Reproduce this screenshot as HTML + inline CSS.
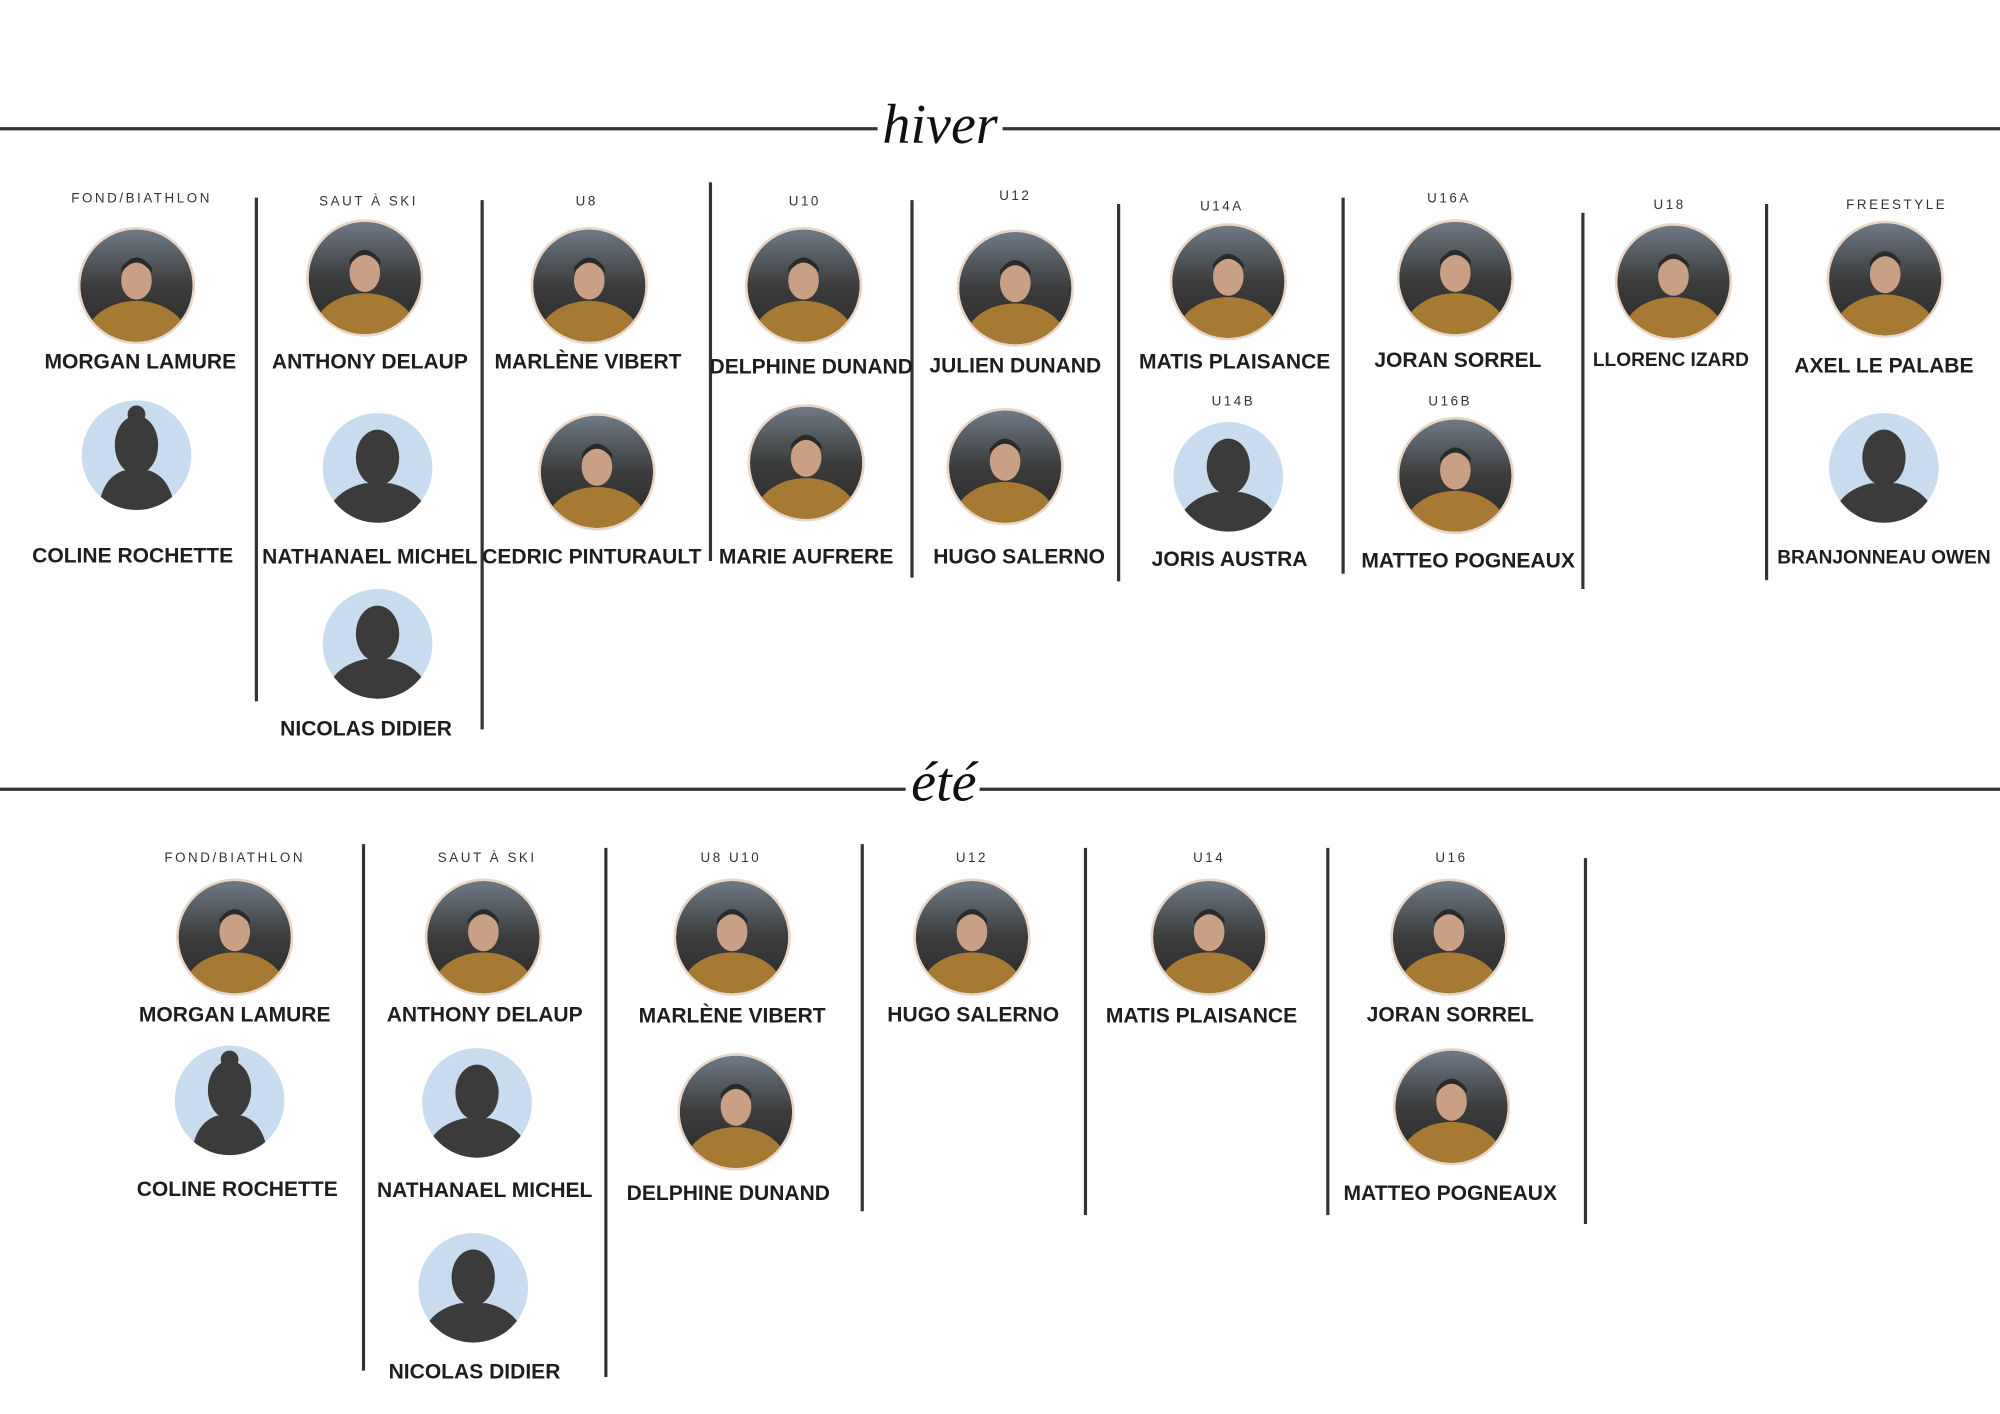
<!DOCTYPE html>
<html><head><meta charset="utf-8"><style>
html,body{margin:0;padding:0;background:#fff;}
svg{display:block;}
.n{font-family:"Liberation Sans",sans-serif;font-weight:bold;font-size:16.5px;fill:#1e1e1e;text-anchor:middle;}
.l{font-family:"Liberation Sans",sans-serif;font-size:10.5px;letter-spacing:2px;fill:#333;text-anchor:middle;}
.s{font-family:"Liberation Serif",serif;font-style:italic;font-size:44px;fill:#111;text-anchor:middle;}
</style></head><body>
<svg width="2000" height="1414" viewBox="0 0 1568 1109" preserveAspectRatio="none" xmlns="http://www.w3.org/2000/svg">
<defs>
<linearGradient id="bg" x1="0" y1="0" x2="0" y2="1"><stop offset="0" stop-color="#6f7a86"/><stop offset="0.5" stop-color="#3c3c3c"/><stop offset="1" stop-color="#2a2a2a"/></linearGradient>
<clipPath id="cp"><circle cx="0" cy="0" r="44"/></clipPath>
<clipPath id="cs"><circle cx="0" cy="0" r="43"/></clipPath>
<g id="ph">
<circle r="46" fill="#e8d6c8"/>
<g clip-path="url(#cp)">
<circle r="44" fill="url(#bg)"/>
<ellipse cx="0" cy="42" rx="40" ry="30" fill="#a77a34"/>
<ellipse cx="0" cy="-4" rx="12" ry="15" fill="#c9a084"/>
<path d="M-12,-10 Q0,-26 12,-10 L12,-14 Q0,-30 -12,-14Z" fill="#2a2a2a"/>
</g>
</g>
<g id="si">
<circle r="43" fill="#c9dcef"/>
<g clip-path="url(#cs)">
<ellipse cx="0" cy="-8" rx="17" ry="22" fill="#3b3b3b"/>
<path d="M-42,45 Q-38,18 -10,12 L10,12 Q38,18 42,45Z" fill="#3b3b3b"/>
</g>
</g>
<g id="sf">
<circle r="43" fill="#c9dcef"/>
<g clip-path="url(#cs)">
<circle cx="0" cy="-32" r="7" fill="#3b3b3b"/>
<ellipse cx="0" cy="-8" rx="17" ry="23" fill="#3b3b3b"/>
<path d="M-30,45 Q-28,18 -10,12 L10,12 Q28,18 30,45Z" fill="#3b3b3b"/>
</g>
</g>
</defs>
<g stroke="#333" stroke-width="2.5">
<line x1="0" y1="101" x2="688" y2="101"/><line x1="786" y1="101" x2="1568" y2="101"/>
<line x1="0" y1="619" x2="710" y2="619"/><line x1="768" y1="619" x2="1568" y2="619"/>
<line x1="201" y1="155" x2="201" y2="550"/><line x1="378" y1="157" x2="378" y2="572"/>
<line x1="557" y1="143" x2="557" y2="440"/><line x1="715" y1="157" x2="715" y2="453"/>
<line x1="877" y1="160" x2="877" y2="456"/><line x1="1053" y1="155" x2="1053" y2="450"/>
<line x1="1241" y1="167" x2="1241" y2="462"/><line x1="1385" y1="160" x2="1385" y2="455"/>
<line x1="285" y1="662" x2="285" y2="1075"/><line x1="475" y1="665" x2="475" y2="1080"/>
<line x1="676" y1="662" x2="676" y2="950"/><line x1="851" y1="665" x2="851" y2="953"/>
<line x1="1041" y1="665" x2="1041" y2="953"/><line x1="1243" y1="673" x2="1243" y2="960"/>
</g>
<text class="s" x="737" y="112">hiver</text>
<text class="s" x="740" y="628">été</text>
<!-- winter -->
<text class="l" x="111" y="159">FOND/BIATHLON</text>
<use href="#ph" x="107" y="224"/><text class="n" x="110" y="289">MORGAN LAMURE</text>
<use href="#sf" x="107" y="357"/><text class="n" x="104" y="441">COLINE ROCHETTE</text>
<text class="l" x="289" y="161">SAUT À SKI</text>
<use href="#ph" x="286" y="218"/><text class="n" x="290" y="289">ANTHONY DELAUP</text>
<use href="#si" x="296" y="367"/><text class="n" x="290" y="442">NATHANAEL MICHEL</text>
<use href="#si" x="296" y="505"/><text class="n" x="287" y="577">NICOLAS DIDIER</text>
<text class="l" x="460" y="161">U8</text>
<use href="#ph" x="462" y="224"/><text class="n" x="461" y="289">MARLÈNE VIBERT</text>
<use href="#ph" x="468" y="370"/><text class="n" x="464" y="442">CEDRIC PINTURAULT</text>
<text class="l" x="631" y="161">U10</text>
<use href="#ph" x="630" y="224"/><text class="n" x="636" y="293">DELPHINE DUNAND</text>
<use href="#ph" x="632" y="363"/><text class="n" x="632" y="442">MARIE AUFRERE</text>
<text class="l" x="796" y="157">U12</text>
<use href="#ph" x="796" y="226"/><text class="n" x="796" y="292">JULIEN DUNAND</text>
<use href="#ph" x="788" y="366"/><text class="n" x="799" y="442">HUGO SALERNO</text>
<text class="l" x="958" y="165">U14A</text>
<use href="#ph" x="963" y="221"/><text class="n" x="968" y="289">MATIS PLAISANCE</text>
<text class="l" x="967" y="318">U14B</text>
<use href="#si" x="963" y="374"/><text class="n" x="964" y="444">JORIS AUSTRA</text>
<text class="l" x="1136" y="159">U16A</text>
<use href="#ph" x="1141" y="218"/><text class="n" x="1143" y="288">JORAN SORREL</text>
<text class="l" x="1137" y="318">U16B</text>
<use href="#ph" x="1141" y="373"/><text class="n" x="1151" y="445">MATTEO POGNEAUX</text>
<text class="l" x="1309" y="164">U18</text>
<use href="#ph" x="1312" y="221"/><text class="n" x="1310" y="287" style="font-size:15px">LLORENC IZARD</text>
<text class="l" x="1487" y="164">FREESTYLE</text>
<use href="#ph" x="1478" y="219"/><text class="n" x="1477" y="292">AXEL LE PALABE</text>
<use href="#si" x="1477" y="367"/><text class="n" x="1477" y="442" style="font-size:15px">BRANJONNEAU OWEN</text>
<!-- summer -->
<text class="l" x="184" y="676">FOND/BIATHLON</text>
<use href="#ph" x="184" y="735"/><text class="n" x="184" y="801">MORGAN LAMURE</text>
<use href="#sf" x="180" y="863"/><text class="n" x="186" y="938">COLINE ROCHETTE</text>
<text class="l" x="382" y="676">SAUT À SKI</text>
<use href="#ph" x="379" y="735"/><text class="n" x="380" y="801">ANTHONY DELAUP</text>
<use href="#si" x="374" y="865"/><text class="n" x="380" y="939">NATHANAEL MICHEL</text>
<use href="#si" x="371" y="1010"/><text class="n" x="372" y="1081">NICOLAS DIDIER</text>
<text class="l" x="573" y="676">U8 U10</text>
<use href="#ph" x="574" y="735"/><text class="n" x="574" y="802">MARLÈNE VIBERT</text>
<use href="#ph" x="577" y="872"/><text class="n" x="571" y="941">DELPHINE DUNAND</text>
<text class="l" x="762" y="676">U12</text>
<use href="#ph" x="762" y="735"/><text class="n" x="763" y="801">HUGO SALERNO</text>
<text class="l" x="948" y="676">U14</text>
<use href="#ph" x="948" y="735"/><text class="n" x="942" y="802">MATIS PLAISANCE</text>
<text class="l" x="1138" y="676">U16</text>
<use href="#ph" x="1136" y="735"/><text class="n" x="1137" y="801">JORAN SORREL</text>
<use href="#ph" x="1138" y="868"/><text class="n" x="1137" y="941">MATTEO POGNEAUX</text>
</svg>
</body></html>
